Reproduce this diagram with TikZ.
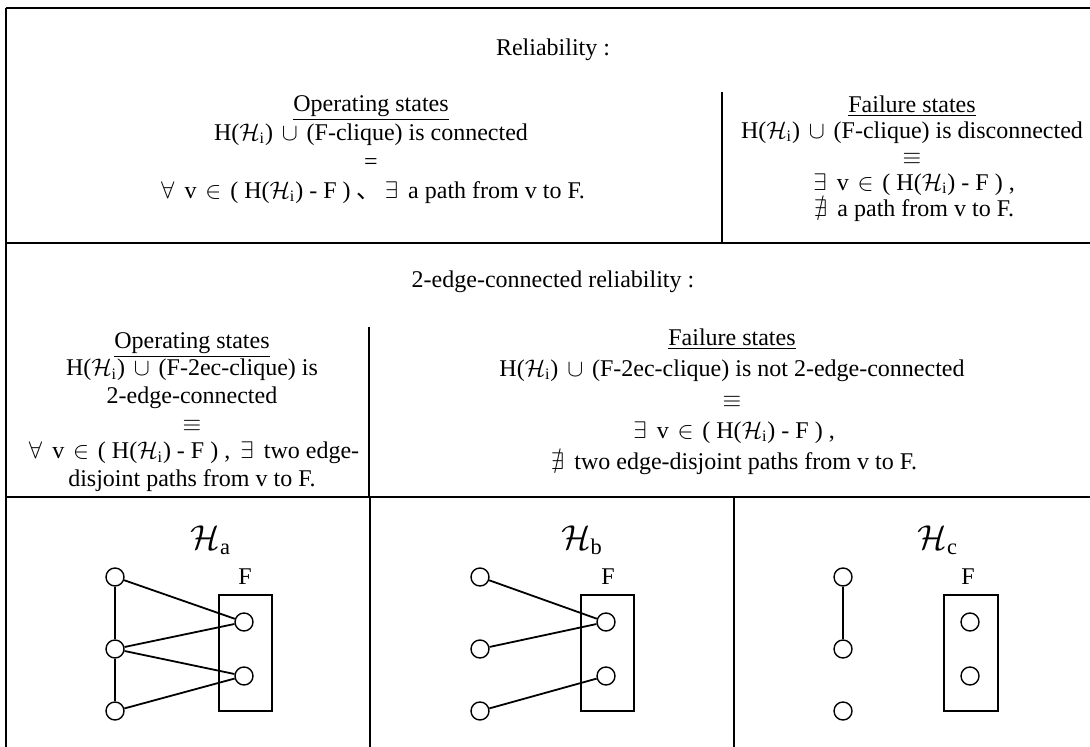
\documentclass[tikz,border=0pt]{standalone}
\usepackage{amssymb}
\usepackage{fontspec}
\setmainfont{Liberation Serif}
\newfontfamily\cjk{Noto Sans CJK JP}
\usetikzlibrary{positioning, fit}
\newcommand{\wsym}[1]{\makebox[0.9em]{$#1$}}
\newcommand{\Hi}{H($\mathcal{H}_{\mathrm{i}}$)}

\begin{document}
\begin{tikzpicture}[x=0.5pt, y=-0.5pt, font=\fontsize{12pt}{14pt}\selectfont,
  rule/.style={line width=0.6pt},
  hrule/.style={line width=0.9pt},
  cell/.style={align=center, inner sep=0pt, anchor=north},
  vtx/.style={draw, circle, minimum size=9pt, inner sep=0pt, line width=0.7pt},
  fset/.style={draw, line width=0.7pt, inner sep=0pt},
  edge/.style={line width=0.9pt},
  hlabel/.style={font=\fontsize{16pt}{19pt}\selectfont}]
\useasboundingbox (0,0) rectangle (1090,747);

% table rules
\draw[hrule] (1090,8) -- (6,8);
\draw[rule] (6,8) -- (6,747);
\draw[hrule] (6,243) -- (1090,243);
\draw[hrule] (6,497) -- (1090,497);
\draw[rule] (722,92) -- (722,243);
\draw[rule] (369,327) -- (369,497);
\draw[rule] (370,497) -- (370,747);
\draw[rule] (734,497) -- (734,747);

% reliability
\node (rel) at (553,50) {Reliability :};
\node[cell, font=\fontsize{12pt}{14.5pt}\selectfont] (relop) at (371,95) {\underline{Operating states}\\
  \Hi{} \wsym{\cup} (F-clique) is connected\\
  =\\
  \wsym{\forall} v \wsym{\in} ( \Hi{} - F ) {\cjk 、}\wsym{\exists} a path from v to F.};
\node[cell, font=\fontsize{12pt}{13pt}\selectfont] (relfail) at (912,95) {\underline{Failure states}\\
  \Hi{} \wsym{\cup} (F-clique) is disconnected\\
  $\equiv$\\
  \wsym{\exists} v \wsym{\in} ( \Hi{} - F ) ,\\
  \wsym{\nexists} a path from v to F.};

% 2-edge-connected reliability
\node (tec) at (553,282) {2-edge-connected reliability :};
\node[cell, font=\fontsize{12pt}{13.8pt}\selectfont] (tecop) at (192,332) {\underline{Operating states}\\
  \Hi{} \wsym{\cup} (F-2ec-clique) is\\
  2-edge-connected\\
  $\equiv$\\
  \wsym{\forall} v \wsym{\in} ( \Hi{} - F ) , \wsym{\exists} two edge-\\
  disjoint paths from v to F.};
\node[cell, font=\fontsize{12pt}{15.5pt}\selectfont] (tecfail) at (732,328) {\underline{Failure states}\\
  \Hi{} \wsym{\cup} (F-2ec-clique) is not 2-edge-connected\\
  $\equiv$\\
  \wsym{\exists} v \wsym{\in} ( \Hi{} - F ) ,\\
  \wsym{\nexists} two edge-disjoint paths from v to F.};

% H_a
\node[hlabel] (ha) at (211,540) {$\mathcal{H}_{\mathrm{a}}$};
\node[vtx] (a1) at (115,577) {};
\node[vtx] (a2) at (115,649) {};
\node[vtx] (a3) at (115,711) {};
\node[vtx] (fa1) at (244,622) {};
\node[vtx] (fa2) at (244,676) {};
\node[fset, fit={(219,595) (272,711)}] (boxa) {};
\node (la) at (245,577) {F};
\draw[edge] (a1) -- (fa1);
\draw[edge] (a2) -- (fa1);
\draw[edge] (a2) -- (fa2);
\draw[edge] (a3) -- (fa2);
\draw[rule] (a1) -- (a2);
\draw[rule] (a2) -- (a3);

% H_b
\node[hlabel] (hb) at (582,540) {$\mathcal{H}_{\mathrm{b}}$};
\node[vtx] (b1) at (480,577) {};
\node[vtx] (b2) at (480,649) {};
\node[vtx] (b3) at (480,711) {};
\node[vtx] (fb1) at (606,622) {};
\node[vtx] (fb2) at (606,676) {};
\node[fset, fit={(581,595) (634,711)}] (boxb) {};
\node (lb) at (608,577) {F};
\draw[edge] (b1) -- (fb1);
\draw[edge] (b2) -- (fb1);
\draw[edge] (b3) -- (fb2);

% H_c
\node[hlabel] (hc) at (938,540) {$\mathcal{H}_{\mathrm{c}}$};
\node[vtx] (c1) at (843,577) {};
\node[vtx] (c2) at (843,649) {};
\node[vtx] (c3) at (843,711) {};
\node[vtx] (fc1) at (970,622) {};
\node[vtx] (fc2) at (970,676) {};
\node[fset, fit={(944,595) (998,711)}] (boxc) {};
\node (lc) at (968,577) {F};
\draw[rule] (c1) -- (c2);
\end{tikzpicture}
\end{document}
